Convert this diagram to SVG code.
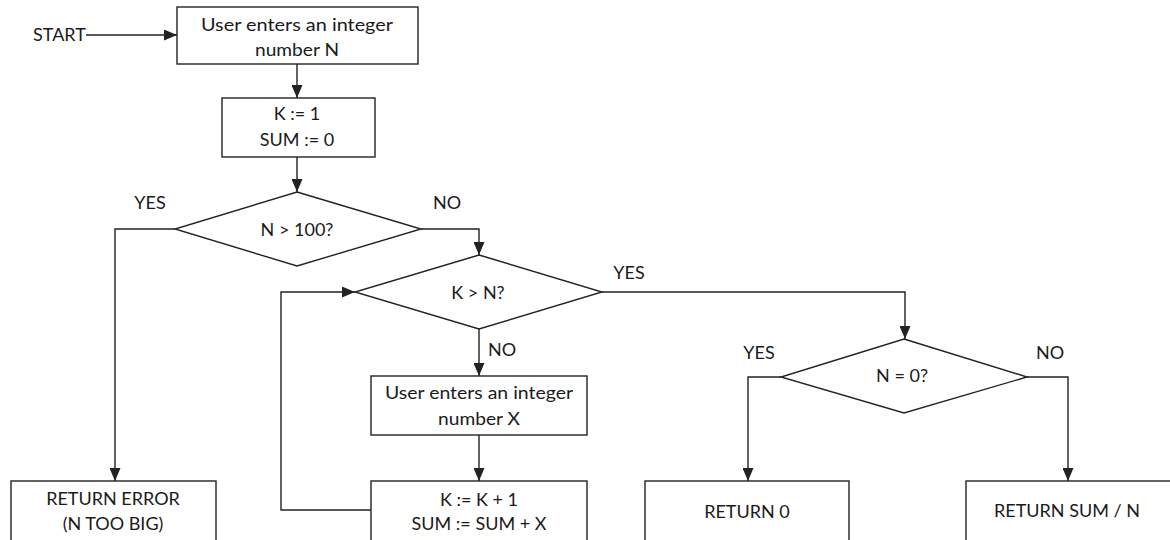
<svg xmlns="http://www.w3.org/2000/svg" width="1170" height="540" viewBox="0 0 1170 540">
<style>
.box{fill:#fff;stroke:#222;stroke-width:1.4}
.t{font-family:Lato,"Liberation Sans",sans-serif;font-size:18px;fill:#1a1a1a;text-anchor:middle}
.l{font-family:Lato,"Liberation Sans",sans-serif;font-size:18px;fill:#1a1a1a}
.c{fill:none;stroke:#222;stroke-width:1.4;marker-end:url(#ah)}
</style>
<defs>
<marker id="ah" viewBox="0 0 13 11" refX="13" refY="5.5" markerWidth="13" markerHeight="11" markerUnits="userSpaceOnUse" orient="auto">
<path d="M0,0 L13,5.5 L0,11 z" fill="#222"/>
</marker>
</defs>
<rect width="1170" height="540" fill="#fff"/>
<g id="connectors">
<path class="c" d="M86,35 H177"/>
<path class="c" d="M297,64 V98"/>
<path class="c" d="M297,157 V192"/>
<path class="c" d="M175,229 H115 V481"/>
<path class="c" d="M421,229 H479 V255"/>
<path class="c" d="M479,329 V376"/>
<path class="c" d="M479,435 V481"/>
<path class="c" d="M371,510 H281 V292 H355"/>
<path class="c" d="M602,292 H905 V339"/>
<path class="c" d="M781,377 H748 V481"/>
<path class="c" d="M1027,377 H1068 V481"/>
</g>
<g id="start"><text class="l" x="33" y="41">START</text></g>
<g id="input-n">
<rect class="box" x="177" y="7" width="241" height="57"/>
<text class="t" x="297" y="31" textLength="192" lengthAdjust="spacingAndGlyphs">User enters  an integer</text>
<text class="t" x="297" y="56" textLength="84" lengthAdjust="spacingAndGlyphs">number N</text>
</g>
<g id="init">
<rect class="box" x="222" y="98" width="153" height="59"/>
<text class="t" x="297" y="120">K := 1</text>
<text class="t" x="297" y="146">SUM := 0</text>
</g>
<g id="check-n">
<polygon class="box" points="297,192 421,229 297,266 175,229"/>
<text class="t" x="297" y="236">N &gt; 100?</text>
<text class="t" x="150" y="209">YES</text>
<text class="t" x="447" y="209">NO</text>
</g>
<g id="check-k">
<polygon class="box" points="479,255 602,292 479,329 355,292"/>
<text class="t" x="478" y="299">K &gt; N?</text>
<text class="t" x="629" y="279">YES</text>
<text class="l" x="488" y="356">NO</text>
</g>
<g id="input-x">
<rect class="box" x="371" y="376" width="216" height="59"/>
<text class="t" x="479" y="399" textLength="188" lengthAdjust="spacingAndGlyphs">User enters an integer</text>
<text class="t" x="479" y="425" textLength="82" lengthAdjust="spacingAndGlyphs">number X</text>
</g>
<g id="update">
<rect class="box" x="371" y="481" width="216" height="64"/>
<text class="t" x="479" y="506">K := K + 1</text>
<text class="t" x="479" y="530">SUM := SUM + X</text>
</g>
<g id="error">
<rect class="box" x="11" y="481" width="205" height="64"/>
<text class="t" x="113" y="505">RETURN ERROR</text>
<text class="t" x="113" y="530">(N TOO BIG)</text>
</g>
<g id="check-zero">
<polygon class="box" points="904,339 1027,377 904,413 781,377"/>
<text class="t" x="902" y="382">N = 0?</text>
<text class="t" x="759" y="359">YES</text>
<text class="t" x="1050" y="359">NO</text>
</g>
<g id="return-zero">
<rect class="box" x="645" y="481" width="204" height="64"/>
<text class="t" x="747" y="518">RETURN 0</text>
</g>
<g id="return-avg">
<rect class="box" x="966" y="481" width="220" height="64"/>
<text class="t" x="1067" y="517">RETURN SUM / N</text>
</g>
</svg>
